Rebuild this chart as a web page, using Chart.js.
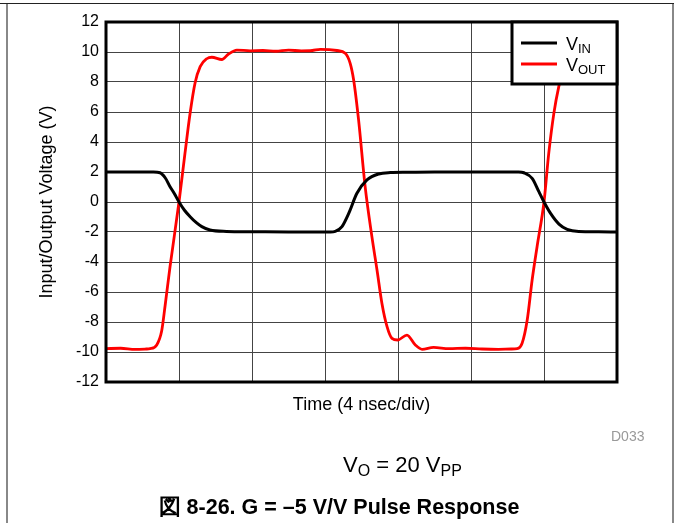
<!DOCTYPE html>
<html>
<head>
<meta charset="utf-8">
<script src="https://cdn.jsdelivr.net/npm/chart.js@4.4.0/dist/chart.umd.min.js"></script>
<style>
  body { margin: 0; background: #fff; font-family: "Liberation Sans", Arial, sans-serif; }
  #wrap { position: relative; width: 674px; height: 523px; overflow: hidden; }
  #chart { position: absolute; left: 0; top: 0; }
  .topline { position: absolute; left: 0; top: 3px; width: 674px; height: 1px; background: #222; }
  .frame { position: absolute; left: 6px; top: 3px; width: 664px; height: 540px; border-left: 2px solid #888; border-right: 2px solid #888; }
  .txt { position: absolute; color: #000; white-space: nowrap; }
  .sub { font-size: 16px; position: relative; top: 4px; }
</style>
</head>
<body>
<div id="wrap">
  <div class="frame"></div>
  <div class="topline"></div>
  <canvas id="chart" width="674" height="523"></canvas>
  <div class="txt" style="left:611px; top:428px; font-size:14px; color:#999;">D033</div>
  <div class="txt" style="left:343px; top:452px; font-size:22px;">V<span class="sub">O</span> = 20 V<span class="sub">PP</span></div>
  <div class="txt" style="left:2px; width:674px; text-align:center; top:492px; font-size:21.5px; font-weight:bold;">図 8-26. G = –5 V/V Pulse Response</div>
</div>
<script>
// time in ns (4 ns per division), voltage in V
const vinTime = [0, 2.6, 2.96, 3.25, 3.51, 3.75, 4.0, 4.3, 4.61, 4.95, 5.25, 5.7, 6.6, 8, 10, 12.3, 12.56, 12.93, 13.3, 13.75, 14.3, 14.94, 15.58, 16.5, 18, 20, 22.6, 22.9, 23.35, 23.72, 24.0, 24.36, 24.82, 25.27, 25.9, 27, 28];
const vinVolt = [2, 2, 1.95, 1.6, 1.02, 0.55, 0, -0.55, -0.98, -1.38, -1.64, -1.87, -1.96, -1.98, -2, -2, -1.96, -1.64, -0.76, 0.58, 1.47, 1.87, 1.96, 1.98, 2, 2, 2, 1.95, 1.58, 0.69, 0, -0.76, -1.47, -1.82, -1.96, -1.98, -2];

const voutTime = [0, 0.8, 1.6, 2.2, 2.41, 2.78, 3.05, 3.24, 3.51, 4.0, 4.33, 4.61, 4.88, 5.16, 5.52, 5.8, 6.35, 6.7, 7.17, 7.9, 8.6, 9.3, 10, 10.7, 11.3, 11.74, 12.65, 13.11, 13.38, 13.57, 13.84, 14.2, 14.57, 14.85, 15.12, 15.4, 15.67, 15.98, 16.49, 16.95, 17.32, 17.95, 18.8, 19.7, 20.6, 21.5, 22.2, 22.53, 22.8, 23.08, 23.35, 23.62, 24.0, 24.26, 24.54, 24.81, 25.1, 25.45, 25.9, 26.6, 27.3, 28];
const voutVolt = [-9.78, -9.75, -9.82, -9.8, -9.78, -9.53, -8.6, -6.9, -4.3, 0, 3.27, 5.93, 7.93, 9.02, 9.55, 9.65, 9.5, 9.85, 10.13, 10.08, 10.1, 10.05, 10.12, 10.08, 10.1, 10.18, 10.1, 9.91, 9.24, 8.13, 5.47, 1.02, -2.31, -4.53, -6.76, -8.31, -9.09, -9.2, -8.87, -9.53, -9.82, -9.69, -9.78, -9.75, -9.8, -9.82, -9.8, -9.78, -9.42, -7.87, -5.2, -2.98, 0, 3.24, 5.91, 7.69, 9.0, 9.7, 10.0, 10.1, 10.05, 10.1];

const xGrid = [0, 4, 8, 12, 16, 20, 24, 28];
const yTicks = [-12, -10, -8, -6, -4, -2, 0, 2, 4, 6, 8, 10, 12];

const FONT = '"Liberation Sans", Arial, sans-serif';

function toPoints(xs, ys) {
    return xs.map((x, i) => ({ x: x, y: ys[i] }));
}

// thick plot frame + boxed legend with subscripts
const framePlugin = {
    id: 'frameAndLegend',
    afterDatasetsDraw(chart) {
        const ctx = chart.ctx;
        const a = chart.chartArea;
        ctx.save();
        ctx.strokeStyle = '#000';
        ctx.lineWidth = 3;
        ctx.strokeRect(a.left, a.top, a.right - a.left, a.bottom - a.top);

        const bw = 105, bh = 62;
        const bx = a.right - bw, by = a.top;
        ctx.fillStyle = '#fff';
        ctx.fillRect(bx, by, bw, bh);
        ctx.lineWidth = 3;
        ctx.strokeRect(bx, by, bw, bh);

        const items = [
            { main: 'V', sub: 'IN', color: '#000', y: by + 21 },
            { main: 'V', sub: 'OUT', color: '#ff0000', y: by + 42 }
        ];
        items.forEach(it => {
            ctx.strokeStyle = it.color;
            ctx.lineWidth = 3;
            ctx.beginPath();
            ctx.moveTo(bx + 9, it.y);
            ctx.lineTo(bx + 45, it.y);
            ctx.stroke();
            ctx.fillStyle = '#000';
            ctx.textBaseline = 'alphabetic';
            ctx.font = '18px ' + FONT;
            ctx.fillText(it.main, bx + 54, it.y + 7);
            const w = ctx.measureText(it.main).width;
            ctx.font = '13px ' + FONT;
            ctx.fillText(it.sub, bx + 54 + w, it.y + 10);
        });
        ctx.restore();
    }
};

const ctx = document.getElementById('chart').getContext('2d');

const pulseChart = new Chart(ctx, {
    type: 'line',
    data: {
        datasets: [
            {
                label: 'VIN',
                data: toPoints(vinTime, vinVolt),
                borderColor: '#000',
                borderWidth: 3,
                pointRadius: 0,
                cubicInterpolationMode: 'monotone'
            },
            {
                label: 'VOUT',
                data: toPoints(voutTime, voutVolt),
                borderColor: '#ff0000',
                borderWidth: 2.8,
                pointRadius: 0,
                cubicInterpolationMode: 'monotone'
            }
        ]
    },
    options: {
        responsive: false,
        animation: false,
        layout: { padding: { left: 0, top: 22, right: 57, bottom: 101 } },
        plugins: {
            legend: { display: false },
            tooltip: { enabled: false }
        },
        scales: {
            x: {
                type: 'linear',
                min: 0,
                max: 28,
                afterBuildTicks: (scale) => { scale.ticks = xGrid.map(v => ({ value: v })); },
                afterFit: (scale) => { scale.height = 40; },
                ticks: { display: false },
                grid: { color: '#444', lineWidth: 1, drawTicks: false },
                border: { display: false },
                title: {
                    display: true,
                    text: 'Time (4 nsec/div)',
                    color: '#000',
                    font: { family: FONT, size: 18 },
                    padding: { top: 0, bottom: 6 }
                }
            },
            y: {
                min: -12,
                max: 12,
                afterBuildTicks: (scale) => { scale.ticks = yTicks.map(v => ({ value: v })); },
                afterFit: (scale) => { scale.width = 106; },
                ticks: {
                    color: '#000',
                    font: { family: FONT, size: 16 },
                    padding: 7
                },
                grid: { color: '#444', lineWidth: 1, drawTicks: false },
                border: { display: false },
                title: {
                    display: true,
                    text: 'Input/Output Voltage (V)',
                    color: '#000',
                    font: { family: FONT, size: 18 },
                    padding: { top: 36, bottom: 0 }
                }
            }
        }
    },
    plugins: [framePlugin]
});
</script>
</body>
</html>
